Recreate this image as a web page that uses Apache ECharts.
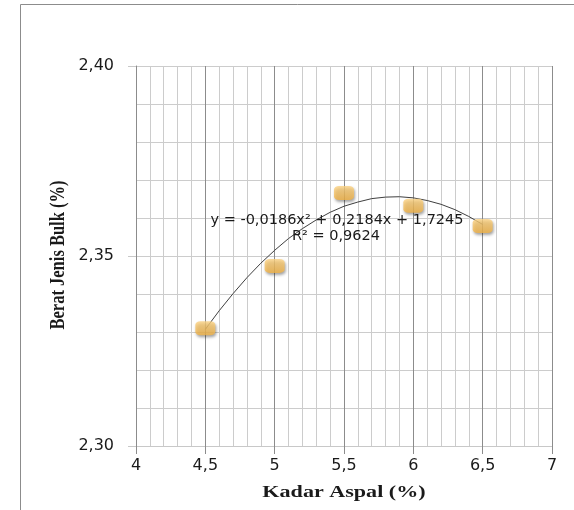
<!DOCTYPE html>
<html>
<head>
<meta charset="utf-8">
<script src="https://cdn.jsdelivr.net/npm/echarts@6/dist/echarts.min.js"></script>
<style>html,body{margin:0;padding:0;background:#fff;}#c{width:574px;height:510px;}</style>
</head>
<body>
<div id="c"></div>
<script>
// Measured points
var kadarAspal = [4.5, 5.0, 5.5, 6.0, 6.5];
var beratJenis = [2.331, 2.3474, 2.3666, 2.3632, 2.3579];
// Trendline points
var trendX = [4.5, 4.6, 4.7, 4.8, 4.9, 5.0, 5.1, 5.2, 5.3, 5.4, 5.5, 5.6, 5.7, 5.8, 5.9, 6.0, 6.1, 6.2, 6.3, 6.4, 6.5];
var trendY = [2.3307, 2.3356, 2.3401, 2.3443, 2.3481, 2.3515, 2.3546, 2.3572, 2.3595, 2.3615, 2.3631,
              2.3642, 2.3651, 2.3655, 2.3656, 2.3653, 2.3646, 2.3636, 2.3622, 2.3604, 2.3583];
var eqText = 'y = -0,0186x² + 0,2184x + 1,7245';
var r2Text = 'R² = 0,9624';
var xTitle = 'Kadar Aspal (%)';
var yTitle = 'Berat Jenis Bulk (%)';

var chart = echarts.init(document.getElementById('c'));
var pts = kadarAspal.map(function (x, i) { return [x, beratJenis[i]]; });
var trend = trendX.map(function (x, i) { return [x, trendY[i]]; });
function fmt(v, d) { return v.toFixed(d).replace('.', ','); }

chart.setOption({
  animation: false,
  backgroundColor: '#fff',
  grid: { left: 136, right: 22, top: 66, bottom: 64 },
  xAxis: {
    type: 'value', min: 4, max: 7, interval: 0.5,
    axisLine: { show: true, onZero: false, lineStyle: { color: '#c8c8c8', width: 1 } },
    axisTick: { show: true, length: 8, lineStyle: { color: '#8c8c8c' } },
    axisLabel: { margin: 12, fontFamily: 'DejaVu Sans', fontSize: 16, color: '#1a1a1a',
      formatter: function (v) { return Math.abs(v - Math.round(v)) < 1e-9 ? String(Math.round(v)) : fmt(v, 1); } },
    splitLine: { show: true, lineStyle: { color: '#8c8c8c', width: 1 } },
    minorTick: { show: false, splitNumber: 5 },
    minorSplitLine: { show: true, lineStyle: { color: '#cccccc', width: 1 } }
  },
  yAxis: {
    type: 'value', min: 2.30, max: 2.40, interval: 0.05,
    axisLine: { show: true, lineStyle: { color: '#8c8c8c', width: 1 } },
    axisTick: { show: true, length: 8, lineStyle: { color: '#c8c8c8' } },
    axisLabel: { margin: 22, fontFamily: 'DejaVu Sans', fontSize: 16, color: '#1a1a1a',
      formatter: function (v) { return fmt(v, 2); } },
    splitLine: { show: true, lineStyle: { color: '#cccccc', width: 1 } },
    minorTick: { show: false, splitNumber: 5 },
    minorSplitLine: { show: true, lineStyle: { color: '#cccccc', width: 1 } }
  },
  series: [
    {
      type: 'line', data: trend, smooth: false, symbol: 'none', z: 3,
      lineStyle: { color: '#3f3f3f', width: 1 }
    },
    {
      type: 'scatter', data: pts, symbol: 'roundRect', symbolSize: [20, 14], z: 4,
      itemStyle: {
        color: new echarts.graphic.LinearGradient(0, 0, 0, 1, [
          { offset: 0, color: '#fbd385' }, { offset: 1, color: '#f4b445' }
        ]),
        shadowBlur: 3, shadowColor: 'rgba(0,0,0,0.45)', shadowOffsetX: 1, shadowOffsetY: 2
      }
    }
  ],
  graphic: [
    { type: 'polyline', shape: { points: [[20.5, 510], [20.5, 4.5], [574, 4.5]] },
      style: { stroke: '#8c8c8c', lineWidth: 1, fill: null }, silent: true },
    { type: 'text', x: 337, y: 220, z: 10,
      style: { text: eqText, fontFamily: 'DejaVu Sans', fontSize: 14.5, fill: '#1a1a1a',
               textAlign: 'center', textVerticalAlign: 'middle' } },
    { type: 'text', x: 336, y: 236, z: 10,
      style: { text: r2Text, fontFamily: 'DejaVu Sans', fontSize: 14.5, fill: '#1a1a1a',
               textAlign: 'center', textVerticalAlign: 'middle' } },
    { type: 'text', x: 344, y: 493, scaleX: 1.3, z: 10,
      style: { text: xTitle, fontFamily: 'Liberation Serif', fontWeight: 'bold', fontSize: 17, fill: '#1a1a1a',
               textAlign: 'center', textVerticalAlign: 'middle' } },
    { type: 'text', x: 58, y: 255, rotation: Math.PI / 2, scaleY: 1.3, z: 10,
      style: { text: yTitle, fontFamily: 'Liberation Serif', fontWeight: 'bold', fontSize: 16.5, fill: '#1a1a1a',
               textAlign: 'center', textVerticalAlign: 'middle' } }
  ]
});
</script>
</body>
</html>
